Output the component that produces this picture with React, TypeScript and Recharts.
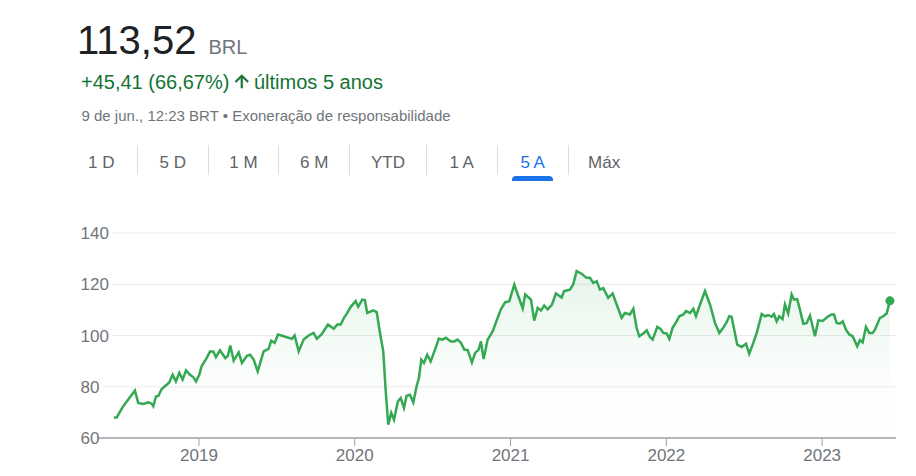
import { AreaChart, Area, XAxis, YAxis, CartesianGrid, ReferenceDot } from "recharts";

const dates = [
  2018.454, 2018.472, 2018.514, 2018.546, 2018.589, 2018.61, 2018.643, 2018.675, 2018.696, 2018.707,
  2018.724, 2018.739, 2018.761, 2018.782, 2018.809, 2018.831, 2018.852, 2018.874, 2018.895, 2018.917,
  2018.942, 2018.963, 2018.981, 2019.002, 2019.017, 2019.049, 2019.071, 2019.092, 2019.109, 2019.135,
  2019.169, 2019.186, 2019.201, 2019.223, 2019.255, 2019.276, 2019.308, 2019.329, 2019.351, 2019.377,
  2019.415, 2019.447, 2019.464, 2019.486, 2019.507, 2019.544, 2019.597, 2019.614, 2019.64, 2019.672,
  2019.704, 2019.736, 2019.757, 2019.789, 2019.828, 2019.865,
  2019.888, 2019.91, 2019.931, 2019.952, 2019.974, 2020.006, 2020.022, 2020.048, 2020.065, 2020.08,
  2020.119, 2020.141, 2020.162, 2020.183, 2020.198, 2020.215, 2020.234, 2020.252, 2020.277, 2020.295,
  2020.316, 2020.333, 2020.354, 2020.376, 2020.397, 2020.412, 2020.427, 2020.444, 2020.465, 2020.487,
  2020.515, 2020.54, 2020.562, 2020.585, 2020.617, 2020.639, 2020.66, 2020.682, 2020.703, 2020.725,
  2020.752, 2020.773, 2020.795, 2020.81, 2020.827, 2020.853, 2020.885, 2020.917, 2020.938, 2020.966,
  2020.992,
  2021.024, 2021.046, 2021.078, 2021.094, 2021.131, 2021.152, 2021.174, 2021.195, 2021.216, 2021.238,
  2021.266, 2021.291, 2021.328, 2021.343, 2021.381, 2021.402, 2021.424, 2021.456, 2021.488, 2021.51,
  2021.531, 2021.553, 2021.574, 2021.595, 2021.627, 2021.655, 2021.681, 2021.713, 2021.734, 2021.766,
  2021.788, 2021.809, 2021.826, 2021.856, 2021.874, 2021.895, 2021.912, 2021.942, 2021.963, 2021.98,
  2022.002, 2022.019, 2022.04, 2022.066, 2022.083, 2022.109, 2022.126, 2022.152, 2022.173, 2022.19,
  2022.216, 2022.248, 2022.28, 2022.312, 2022.34, 2022.365, 2022.387, 2022.404, 2022.419, 2022.44,
  2022.455, 2022.483, 2022.511, 2022.532, 2022.558, 2022.58, 2022.612, 2022.633, 2022.654, 2022.676,
  2022.691, 2022.708, 2022.725, 2022.746, 2022.761, 2022.782, 2022.804, 2022.819, 2022.84, 2022.857,
  2022.879, 2022.9, 2022.922, 2022.954, 2022.975,
  2023.003, 2023.039, 2023.061, 2023.076, 2023.093, 2023.114, 2023.132, 2023.153, 2023.174, 2023.196,
  2023.225, 2023.243, 2023.26, 2023.281, 2023.302, 2023.324, 2023.339, 2023.371, 2023.392, 2023.414,
  2023.435,
];

const prices = [
  68.0, 68.0, 72.4, 75.0, 78.5, 73.7, 73.3, 73.9, 73.4, 72.4,
  76.2, 76.4, 79.1, 80.2, 81.7, 84.7, 82.1, 85.4, 82.8, 86.4,
  84.7, 83.8, 82.1, 84.7, 88.0, 91.2, 93.8, 93.8, 91.6, 94.2,
  91.2, 92.1, 96.1, 90.2, 93.4, 89.3, 92.1, 92.5, 90.6, 86.0,
  93.8, 94.8, 98.0, 97.1, 100.4, 99.7, 98.7, 100.0, 93.8, 98.4,
  100.0, 101.0, 98.7, 100.6, 104.3, 102.6,
  104.3, 104.3, 106.9, 108.8, 111.2, 113.4, 111.2, 114.0, 113.8, 108.8,
  109.8, 109.1, 101.0, 93.8, 78.9, 65.2, 69.8, 67.1, 74.3, 75.6,
  71.7, 76.5, 76.9, 73.9, 80.2, 83.4, 90.6, 89.3, 92.5, 89.9,
  94.5, 98.8, 98.4, 99.1, 97.7, 97.7, 98.4, 97.1, 94.5, 94.3,
  89.5, 93.2, 94.5, 97.7, 90.8, 98.4, 101.6, 106.9, 110.2, 113.0,
  113.4,
  119.9, 116.0, 110.6, 116.0, 114.0, 105.8, 110.8, 109.8, 111.7, 110.2,
  112.1, 116.4, 114.8, 117.3, 117.9, 119.9, 125.1, 124.1, 122.5, 122.5,
  120.5, 121.2, 117.9, 118.5, 114.7, 116.4, 112.1, 106.9, 108.8, 108.2,
  110.4, 103.0, 99.7, 101.0, 102.0, 99.4, 98.4, 103.4, 102.6, 101.0,
  100.8, 98.7, 103.0, 105.5, 107.5, 108.2, 109.5, 108.8, 110.4, 107.5,
  112.1, 117.3, 112.1, 104.9, 101.0, 103.0, 105.2, 107.5, 107.3, 101.0,
  96.4, 95.5, 96.8, 92.9, 97.1, 101.0, 108.4, 107.5, 108.0, 107.3,
  108.4, 105.5, 107.5, 106.4, 112.1, 108.6, 116.0, 114.0, 114.2, 110.2,
  104.6, 104.8, 107.8, 99.7, 105.9,
  105.7, 107.5, 108.2, 108.2, 104.9, 104.6, 105.5, 102.3, 100.4, 99.7,
  95.8, 98.2, 97.3, 103.4, 101.0, 101.0, 102.3, 106.9, 107.5, 108.6,
  113.52,
];

const yearTicks = [2019, 2020, 2021, 2022, 2023];
const priceTicks = [60, 80, 100, 120, 140];
const ranges = ["1 D", "5 D", "1 M", "6 M", "YTD", "1 A", "5 A", "Máx"];
const activeRange = "5 A";

const FONT = '"Liberation Sans", Arial, sans-serif';
const GREEN = "#34a853";
const CHART_W = 916;
const CHART_H = 276;
const X_AXIS_H = 30;
const MARGIN = { top: 33, right: 20, bottom: 8, left: 0 };
const Y_AXIS_W = 98;
const LABEL_X = 80.5;
const DIGIT_W = 9.45;
const TAB_WIDTHS = [70.7, 71, 70.6, 71, 76.4, 71, 71, 72];

const PLOT_BOTTOM = CHART_H - MARGIN.bottom - X_AXIS_H;
const PLOT_H = PLOT_BOTTOM - MARGIN.top;
const Y_MIN = priceTicks[0];
const Y_MAX = priceTicks[priceTicks.length - 1];

const data = dates.map((t, i) => ({ t, price: prices[i] }));
const last = data[data.length - 1];

// grid line starts just right of its label, like the original
function GridRow(props: any) {
  const { y1, x2 } = props;
  const value = Math.round(Y_MIN + ((PLOT_BOTTOM - y1) / PLOT_H) * (Y_MAX - Y_MIN));
  if (value <= Y_MIN) return <g key={props.key} />;
  const start = LABEL_X + String(value).length * DIGIT_W + 3;
  return <line key={props.key} x1={start} x2={x2} y1={y1} y2={y1} stroke="#ececec" strokeWidth={1} />;
}

function PriceTick(props: any) {
  const { y, payload } = props;
  return (
    <text x={LABEL_X} y={y} dy="0.36em" fill="#70757a" fontSize={17} fontFamily={FONT} textAnchor="start">
      {String(payload.value)}
    </text>
  );
}

function Header() {
  return (
    <svg width={916} height={140} style={{ position: "absolute", left: 0, top: 0 }}>
      <text x={77} y={54} fontSize={40} fill="#202124" fontFamily={FONT}>
        113,52
      </text>
      <text x={208.5} y={54} fontSize={20} fill="#70757a" fontFamily={FONT}>
        BRL
      </text>
      <text x={81} y={89.3} fontSize={20} fill="#137333" fontFamily={FONT}>
        +45,41 (66,67%)
      </text>
      <path
        d="M4 12l1.41 1.41L11 7.83V20h2V7.83l5.58 5.59L20 12l-8-8-8 8z"
        fill="#137333"
        stroke="#137333"
        strokeWidth={0.6}
        transform="translate(231.6 71.1) scale(0.85)"
      />
      <text x={254} y={89.3} fontSize={20} fill="#137333" fontFamily={FONT}>
        últimos 5 anos
      </text>
      <text x={81.5} y={120.7} fontSize={15} fill="#70757a" fontFamily={FONT}>
        9 de jun., 12:23 BRT • Exoneração de responsabilidade
      </text>
    </svg>
  );
}

function RangeTabs() {
  return (
    <div style={{ position: "absolute", left: 66, top: 145, display: "flex", fontFamily: FONT }}>
      {ranges.map((r, i) => {
        const active = r === activeRange;
        return (
          <div
            key={r}
            style={{
              position: "relative",
              boxSizing: "border-box",
              width: TAB_WIDTHS[i],
              height: 30,
              lineHeight: "35px",
              textAlign: "center",
              fontSize: 17,
              color: active ? "#1a73e8" : "#5f6368",
              borderLeft: i > 0 ? "1px solid #dadce0" : "none",
              whiteSpace: "nowrap",
            }}
          >
            {r}
            {active && (
              <div
                style={{
                  position: "absolute",
                  left: 14,
                  right: 15,
                  top: 31,
                  height: 5,
                  background: "#1a73e8",
                  borderRadius: "4px 4px 0 0",
                }}
              />
            )}
          </div>
        );
      })}
    </div>
  );
}

export default function App() {
  return (
    <div
      style={{
        position: "fixed",
        left: 0,
        top: 0,
        width: 916,
        height: 476,
        background: "#fff",
        fontFamily: FONT,
        overflow: "hidden",
      }}
    >
      <Header />
      <RangeTabs />
      <div style={{ position: "absolute", left: 0, top: 200 }}>
        <AreaChart width={CHART_W} height={CHART_H} data={data} margin={MARGIN}>
          <defs>
            <linearGradient id="fill5y" x1="0" y1="0" x2="0" y2="1">
              <stop offset="0%" stopColor={GREEN} stopOpacity={0.2} />
              <stop offset="65%" stopColor={GREEN} stopOpacity={0.03} />
              <stop offset="100%" stopColor={GREEN} stopOpacity={0} />
            </linearGradient>
          </defs>
          <CartesianGrid vertical={false} horizontal={(props: any) => <GridRow {...props} />} />
          <YAxis
            type="number"
            domain={[Y_MIN, Y_MAX]}
            ticks={priceTicks}
            width={Y_AXIS_W}
            axisLine={false}
            tickLine={false}
            tick={(props: any) => <PriceTick {...props} />}
            interval={0}
          />
          <XAxis
            type="number"
            dataKey="t"
            domain={[2018.352, 2023.474]}
            ticks={yearTicks}
            interval={0}
            height={X_AXIS_H}
            axisLine={{ stroke: "#9aa0a6", strokeWidth: 1.5 }}
            tickLine={{ stroke: "#9aa0a6", strokeWidth: 1 }}
            tickSize={8}
            tickMargin={3}
            tick={{ fill: "#70757a", fontSize: 17, fontFamily: FONT }}
          />
          <Area
            type="linear"
            dataKey="price"
            stroke={GREEN}
            strokeWidth={2.5}
            fill="url(#fill5y)"
            dot={false}
            activeDot={false}
            isAnimationActive={false}
          />
          <ReferenceDot x={last.t} y={last.price} r={4.5} fill={GREEN} stroke="none" />
        </AreaChart>
      </div>
    </div>
  );
}
